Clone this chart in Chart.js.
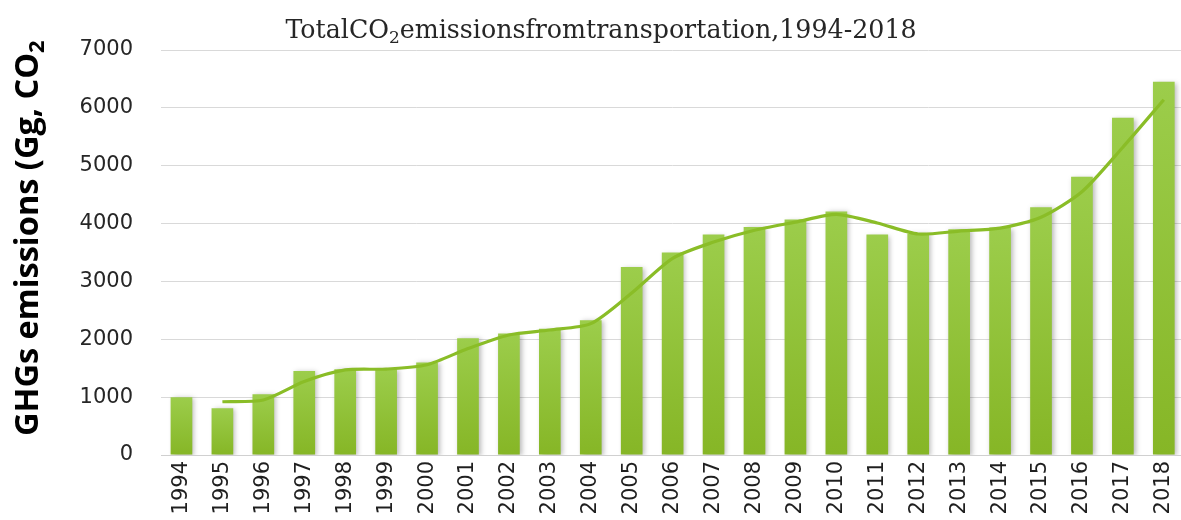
<!DOCTYPE html>
<html>
<head>
<meta charset="utf-8">
<script src="https://cdn.jsdelivr.net/npm/chart.js@4/dist/chart.umd.min.js"></script>
<style>
  html, body { margin: 0; padding: 0; background: #ffffff; overflow: hidden; }
  #wrap { position: absolute; left: 0; top: 0; width: 1195px; height: 520px; }
</style>
</head>
<body>
<div id="wrap"><canvas id="c" width="1195" height="520"></canvas></div>
<script>
// Years on the category axis
const years = ['1994','1995','1996','1997','1998','1999','2000','2001','2002','2003','2004','2005','2006',
               '2007','2008','2009','2010','2011','2012','2013','2014','2015','2016','2017','2018'];

// Total CO2 emissions from transportation (Gg)
const emissions = [1000, 810, 1050, 1450, 1480, 1480, 1600, 2020, 2100, 2180, 2330, 3250, 3500,
                   3810, 3940, 4070, 4210, 3810, 3830, 3900, 3930, 4280, 4810, 5830, 6450];

// Trend line (two-period moving average)
const trend = [null, 920, 950, 1270, 1470, 1485, 1560, 1840, 2075, 2160, 2270, 2800, 3400,
               3680, 3885, 4025, 4160, 4010, 3820, 3870, 3920, 4110, 4550, 5320, 6140];

// Value axis ticks
const yTicks = [0, 1000, 2000, 3000, 4000, 5000, 6000, 7000];

const titleMain = 'TotalCO';
const titleSub = '2';
const titleRest = 'emissionsfromtransportation,1994-2018';
const yTitleMain = 'GHGs emissions (Gg, CO';
const yTitleSub = '2';

// Soft drop shadow behind the bars
const barShadow = {
  id: 'barShadow',
  beforeDatasetDraw(chart, args) {
    if (args.meta.type !== 'bar') return;
    const ctx = chart.ctx;
    ctx.save();
    ctx.shadowColor = 'rgba(0,0,0,0.28)';
    ctx.shadowBlur = 5;
    ctx.shadowOffsetX = 2;
    ctx.shadowOffsetY = 1;
  },
  afterDatasetDraw(chart, args) {
    if (args.meta.type !== 'bar') return;
    chart.ctx.restore();
  }
};

// Chart title and rotated value-axis title, both with subscript digits
const titles = {
  id: 'titles',
  afterDraw(chart) {
    const ctx = chart.ctx;
    ctx.save();
    ctx.fillStyle = '#262626';
    ctx.textBaseline = 'alphabetic';

    // Chart title
    const tf = '25.3px "DejaVu Serif", serif';
    const sf = '17px "DejaVu Serif", serif';
    ctx.font = tf;
    const w1 = ctx.measureText(titleMain).width;
    const w3 = ctx.measureText(titleRest).width;
    ctx.font = sf;
    const w2 = ctx.measureText(titleSub).width;
    const total = w1 + w2 + w3;
    let x = 601 - total / 2;
    const base = 38;
    ctx.font = tf;
    ctx.fillText(titleMain, x, base);
    x += w1;
    ctx.font = sf;
    ctx.fillText(titleSub, x, base + 5);
    x += w2;
    ctx.font = tf;
    ctx.fillText(titleRest, x, base);

    // Value-axis title, reading bottom to top
    ctx.translate(38, 436);
    ctx.rotate(-Math.PI / 2);
    ctx.fillStyle = '#000000';
    const af = 'bold 32.5px "Open Sans", Lato, sans-serif';
    const asf = 'bold 22px "Open Sans", Lato, sans-serif';
    ctx.font = af;
    ctx.fillText(yTitleMain, 0, 0);
    const ax = ctx.measureText(yTitleMain).width;
    ctx.font = asf;
    ctx.fillText(yTitleSub, ax, 6);
    ctx.restore();
  }
};

// Vertical gradient per bar, lighter at the top
function barFill(context) {
  const chart = context.chart;
  const y = chart.scales && chart.scales.y;
  if (!y || !chart.chartArea) return '#8dbb2e';
  const v = context.raw;
  const top = y.getPixelForValue(v);
  const bottom = y.getPixelForValue(0);
  if (!isFinite(top) || !isFinite(bottom) || top === bottom) return '#8dbb2e';
  const g = chart.ctx.createLinearGradient(0, top, 0, bottom);
  g.addColorStop(0, '#9ccd4b');
  g.addColorStop(1, '#86b626');
  return g;
}

new Chart(document.getElementById('c'), {
  type: 'bar',
  data: {
    labels: years,
    datasets: [
      {
        type: 'line',
        label: 'Trend',
        data: trend,
        borderColor: '#8abd27',
        borderWidth: 3.2,
        pointRadius: 0,
        tension: 0.25,
        fill: false,
        order: 0
      },
      {
        type: 'bar',
        label: 'Total CO2',
        data: emissions,
        backgroundColor: barFill,
        borderWidth: 0,
        categoryPercentage: 1.0,
        barPercentage: 0.53,
        order: 1
      }
    ]
  },
  options: {
    responsive: false,
    animation: false,
    devicePixelRatio: 1,
    layout: { padding: { top: 50, left: 0, right: 0, bottom: 0 } },
    plugins: {
      legend: { display: false },
      tooltip: { enabled: false },
      title: { display: false }
    },
    scales: {
      x: {
        grid: { display: false, drawTicks: false },
        border: { display: true, color: '#d0d0d0', width: 1 },
        ticks: {
          minRotation: 90,
          maxRotation: 90,
          autoSkip: false,
          padding: 6,
          color: '#1f1f1f',
          font: { family: '"DejaVu Sans", Verdana, sans-serif', size: 21 }
        },
        afterFit(scale) { scale.height = 65; }
      },
      y: {
        min: 0,
        max: 7000,
        afterBuildTicks(scale) { scale.ticks = yTicks.map(v => ({ value: v })); },
        grid: { color: '#d9d9d9', lineWidth: 1, drawTicks: false },
        border: { display: false },
        ticks: {
          padding: 28,
          color: '#262626',
          callback: v => String(v),
          font: { family: '"DejaVu Sans", Verdana, sans-serif', size: 21 }
        },
        afterFit(scale) { scale.width = 161; }
      }
    }
  },
  plugins: [barShadow, titles]
});
</script>
</body>
</html>
